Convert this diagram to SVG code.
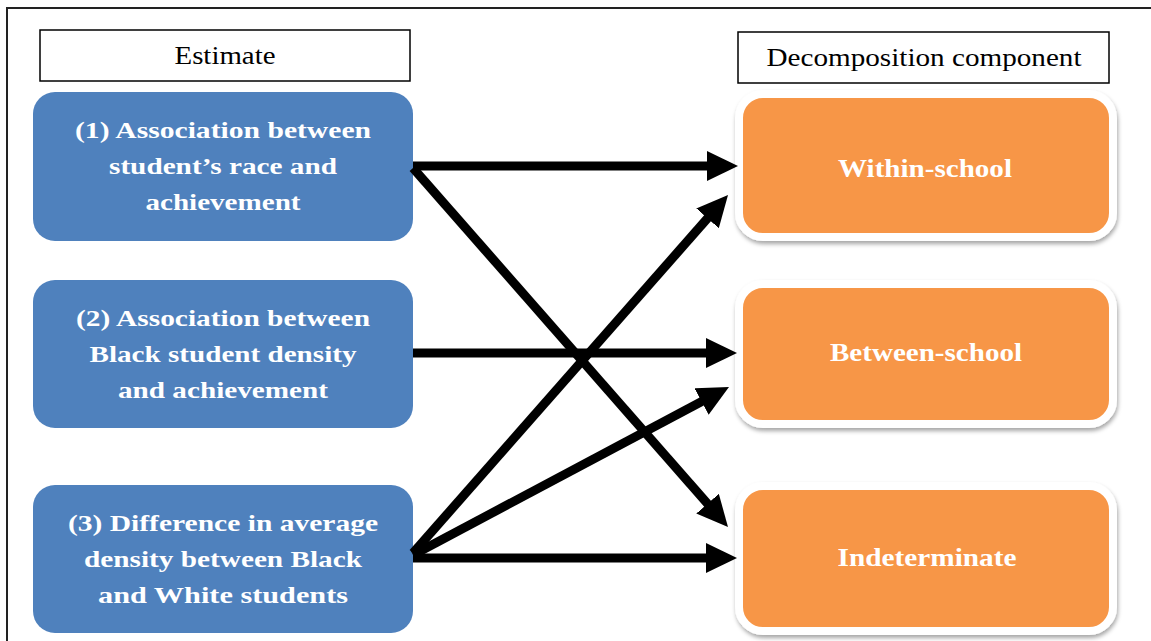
<svg xmlns="http://www.w3.org/2000/svg" width="1151" height="641" viewBox="0 0 1151 641">
  <style>
    .hdr { fill: #ffffff; stroke: #000000; stroke-width: 1.5; }
    .hdrtxt { font-family: "Liberation Serif", serif; font-size: 25px; fill: #000000; text-anchor: middle; }
    .est { fill: #4F81BD; }
    .esttxt { font-family: "Liberation Serif", serif; font-weight: bold; font-size: 24px; fill: #ffffff; text-anchor: middle; }
    .comp { fill: #F79646; stroke: #ffffff; stroke-width: 8; filter: url(#shadow); }
    .comptxt { font-family: "Liberation Serif", serif; font-weight: bold; font-size: 26px; fill: #ffffff; text-anchor: middle; }
    .conn { stroke: #000000; stroke-width: 9; fill: none; marker-end: url(#arrow); }
  </style>
  <defs>
    <marker id="arrow" markerUnits="userSpaceOnUse" markerWidth="32" markerHeight="30" refX="6" refY="15" orient="auto">
      <path d="M0,0 L31,15 L0,30 Z" fill="#000000"/>
    </marker>
    <filter id="shadow" x="-10%" y="-10%" width="120%" height="130%">
      <feDropShadow dx="1" dy="3" stdDeviation="2" flood-color="#000000" flood-opacity="0.35"/>
    </filter>
  </defs>
  <rect x="0" y="0" width="1151" height="641" fill="#ffffff"/>
  <rect x="7" y="8" width="1170" height="660" fill="none" stroke="#222222" stroke-width="2"/>

  <g id="header-estimate">
    <rect class="hdr" x="40" y="30" width="370" height="51"/>
    <text class="hdrtxt" x="225" y="64" textLength="101" lengthAdjust="spacingAndGlyphs">Estimate</text>
  </g>
  <g id="header-decomposition">
    <rect class="hdr" x="738" y="32" width="371" height="51"/>
    <text class="hdrtxt" x="924" y="66" textLength="315" lengthAdjust="spacingAndGlyphs">Decomposition component</text>
  </g>

  <g id="estimate-1">
    <rect class="est" x="33" y="92" width="380" height="149" rx="22" ry="22"/>
    <text class="esttxt" x="223" y="138" textLength="296" lengthAdjust="spacingAndGlyphs">(1) Association between</text>
    <text class="esttxt" x="223" y="174" textLength="228" lengthAdjust="spacingAndGlyphs">student’s race and</text>
    <text class="esttxt" x="223" y="210" textLength="155" lengthAdjust="spacingAndGlyphs">achievement</text>
  </g>
  <g id="estimate-2">
    <rect class="est" x="33" y="280" width="380" height="148" rx="22" ry="22"/>
    <text class="esttxt" x="223" y="326" textLength="294" lengthAdjust="spacingAndGlyphs">(2) Association between</text>
    <text class="esttxt" x="223" y="362" textLength="267" lengthAdjust="spacingAndGlyphs">Black student density</text>
    <text class="esttxt" x="223" y="398" textLength="210" lengthAdjust="spacingAndGlyphs">and achievement</text>
  </g>
  <g id="estimate-3">
    <rect class="est" x="33" y="485" width="380" height="148" rx="22" ry="22"/>
    <text class="esttxt" x="223" y="531" textLength="310" lengthAdjust="spacingAndGlyphs">(3) Difference in average</text>
    <text class="esttxt" x="223" y="567" textLength="278" lengthAdjust="spacingAndGlyphs">density between Black</text>
    <text class="esttxt" x="223" y="603" textLength="250" lengthAdjust="spacingAndGlyphs">and White students</text>
  </g>

  <g id="component-within">
    <rect class="comp" x="739" y="94" width="374" height="143" rx="24" ry="24"/>
    <text class="comptxt" x="925" y="177" textLength="174" lengthAdjust="spacingAndGlyphs">Within-school</text>
  </g>
  <g id="component-between">
    <rect class="comp" x="739" y="284" width="374" height="140" rx="24" ry="24"/>
    <text class="comptxt" x="926" y="361" textLength="192" lengthAdjust="spacingAndGlyphs">Between-school</text>
  </g>
  <g id="component-indeterminate">
    <rect class="comp" x="739" y="486" width="374" height="145" rx="24" ry="24"/>
    <text class="comptxt" x="927" y="566" textLength="179" lengthAdjust="spacingAndGlyphs">Indeterminate</text>
  </g>

  <g id="connectors">
    <line class="conn" x1="413" y1="166" x2="713" y2="166"/>
    <line class="conn" x1="413" y1="168" x2="711.5" y2="508.2"/>
    <line class="conn" x1="413" y1="353" x2="712" y2="353"/>
    <line class="conn" x1="413" y1="553" x2="711.5" y2="213.8"/>
    <line class="conn" x1="413" y1="555" x2="706.9" y2="398.8"/>
    <line class="conn" x1="413" y1="558" x2="712" y2="558"/>
  </g>
</svg>
